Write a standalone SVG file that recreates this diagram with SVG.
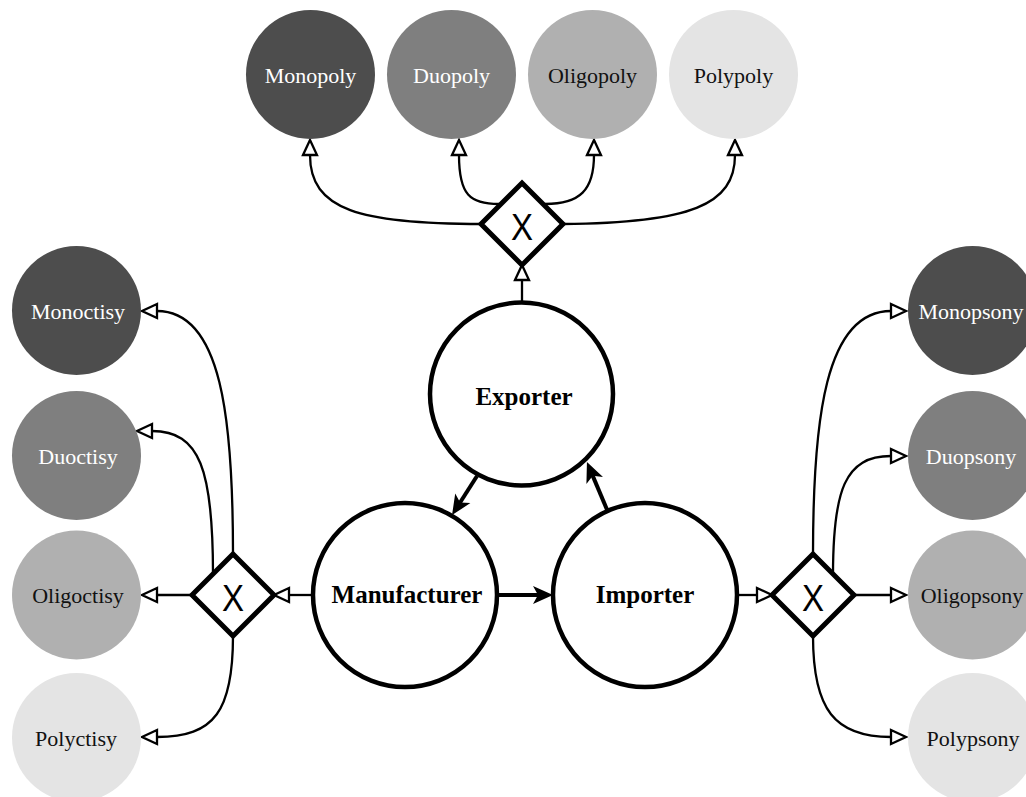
<svg xmlns="http://www.w3.org/2000/svg" width="1026" height="797" viewBox="0 0 1026 797">
<style>
.outer{stroke:none}
.c1{fill:#4d4d4d}.c2{fill:#7f7f7f}.c3{fill:#b0b0b0}.c4{fill:#e4e4e4}
.lbl{font-family:"Liberation Serif","Times New Roman",serif;font-size:22px;text-anchor:middle}
.lt{fill:#ffffff}.dk{fill:#111111}
.main{fill:#ffffff;stroke:#000;stroke-width:4.5}
.mlbl{font-family:"Liberation Serif","Times New Roman",serif;font-size:25px;font-weight:bold;text-anchor:middle;fill:#000}
.gw{fill:#ffffff;stroke:#000;stroke-width:5;stroke-linejoin:miter}
.gx{font-family:"Liberation Sans",Arial,sans-serif;font-size:37px;text-anchor:middle;fill:#000}
.thin{fill:none;stroke:#000;stroke-width:2.3;marker-end:url(#hollow)}
.thick{fill:none;stroke:#000;stroke-width:4;marker-end:url(#solid)}
</style>
<defs>
<marker id="hollow" markerUnits="userSpaceOnUse" markerWidth="20" markerHeight="20" refX="0" refY="7" orient="auto" overflow="visible">
<path d="M0,0 L15,7 L0,14 Z" fill="#fff" stroke="#000" stroke-width="2.3" stroke-linejoin="miter"/>
</marker>
<marker id="solid" markerUnits="userSpaceOnUse" markerWidth="24" markerHeight="24" refX="8" refY="9" orient="auto" overflow="visible">
<path d="M0,0 L20,9 L0,18 L5,9 Z" fill="#000"/>
</marker>
</defs>
<rect width="1026" height="797" fill="#ffffff"/>

<g id="connectors">
<path class="thin" d="M482,224 C360,224 310,210 310,155"/>
<path class="thin" d="M499,204 C470,204 459,195 459,155"/>
<path class="thin" d="M545,204 C580,204 594,190 594,155"/>
<path class="thin" d="M563,224 C690,223 735,205 735,155"/>
<path class="thin" d="M522,303 L522,280"/>
<path class="thin" d="M233,554 C233,420 222,311 157,311"/>
<path class="thin" d="M213,574 C213,470 200,431 152,431"/>
<path class="thin" d="M192,595 L157,595"/>
<path class="thin" d="M233,636 C233,710 215,737 157,737"/>
<path class="thin" d="M313,595 L289,595"/>
<path class="thin" d="M813,554 C813,420 825,311 891,311"/>
<path class="thin" d="M833,575 C833,490 845,456 891,456"/>
<path class="thin" d="M854,595 L891,595"/>
<path class="thin" d="M813,636 C813,710 835,737 891,737"/>
<path class="thin" d="M737,595 L757,595"/>
<path class="thick" d="M477,476 L458.5,505"/>
<path class="thick" d="M608,512 L591.6,473.1"/>
<path class="thick" d="M497,595 L541,595"/>
</g>

<g id="monopoly"><circle class="outer c1" cx="310.5" cy="74.5" r="64.5"/><text class="lbl lt" x="310.5" y="83">Monopoly</text></g>
<g id="duopoly"><circle class="outer c2" cx="451.5" cy="74.5" r="64.5"/><text class="lbl lt" x="451.5" y="83">Duopoly</text></g>
<g id="oligopoly"><circle class="outer c3" cx="592.5" cy="74.5" r="64.5"/><text class="lbl dk" x="592.5" y="83">Oligopoly</text></g>
<g id="polypoly"><circle class="outer c4" cx="733.5" cy="74.5" r="64.5"/><text class="lbl dk" x="733.5" y="83">Polypoly</text></g>

<g id="monoctisy"><circle class="outer c1" cx="76.5" cy="310.5" r="64.5"/><text class="lbl lt" x="78" y="319">Monoctisy</text></g>
<g id="duoctisy"><circle class="outer c2" cx="76.5" cy="455.5" r="64.5"/><text class="lbl lt" x="78" y="464">Duoctisy</text></g>
<g id="oligoctisy"><circle class="outer c3" cx="76.5" cy="595" r="64.5"/><text class="lbl dk" x="78" y="603">Oligoctisy</text></g>
<g id="polyctisy"><circle class="outer c4" cx="76.5" cy="737.5" r="64.5"/><text class="lbl dk" x="76" y="746">Polyctisy</text></g>

<g id="monopsony"><circle class="outer c1" cx="972.5" cy="310.5" r="64.5"/><text class="lbl lt" x="971" y="319">Monopsony</text></g>
<g id="duopsony"><circle class="outer c2" cx="972.5" cy="455.5" r="64.5"/><text class="lbl lt" x="971" y="464">Duopsony</text></g>
<g id="oligopsony"><circle class="outer c3" cx="972.5" cy="595" r="64.5"/><text class="lbl dk" x="972" y="603">Oligopsony</text></g>
<g id="polypsony"><circle class="outer c4" cx="972.5" cy="737.5" r="64.5"/><text class="lbl dk" x="973" y="746">Polypsony</text></g>

<g id="gateway-top"><path class="gw" d="M522,183 L563,224 L522,265 L481,224 Z"/><text class="gx" x="522" y="240" textLength="22" lengthAdjust="spacingAndGlyphs">X</text></g>
<g id="gateway-left"><path class="gw" d="M233,554 L274,595 L233,636 L192,595 Z"/><text class="gx" x="233" y="611" textLength="22" lengthAdjust="spacingAndGlyphs">X</text></g>
<g id="gateway-right"><path class="gw" d="M813,554 L854,595 L813,636 L772,595 Z"/><text class="gx" x="813" y="611" textLength="22" lengthAdjust="spacingAndGlyphs">X</text></g>

<g id="exporter"><circle class="main" cx="521.5" cy="394" r="91.5"/><text class="mlbl" x="524" y="405">Exporter</text></g>
<g id="manufacturer"><circle class="main" cx="405" cy="595" r="92"/><text class="mlbl" x="407" y="603">Manufacturer</text></g>
<g id="importer"><circle class="main" cx="645" cy="595" r="92"/><text class="mlbl" x="645" y="603">Importer</text></g>
</svg>
